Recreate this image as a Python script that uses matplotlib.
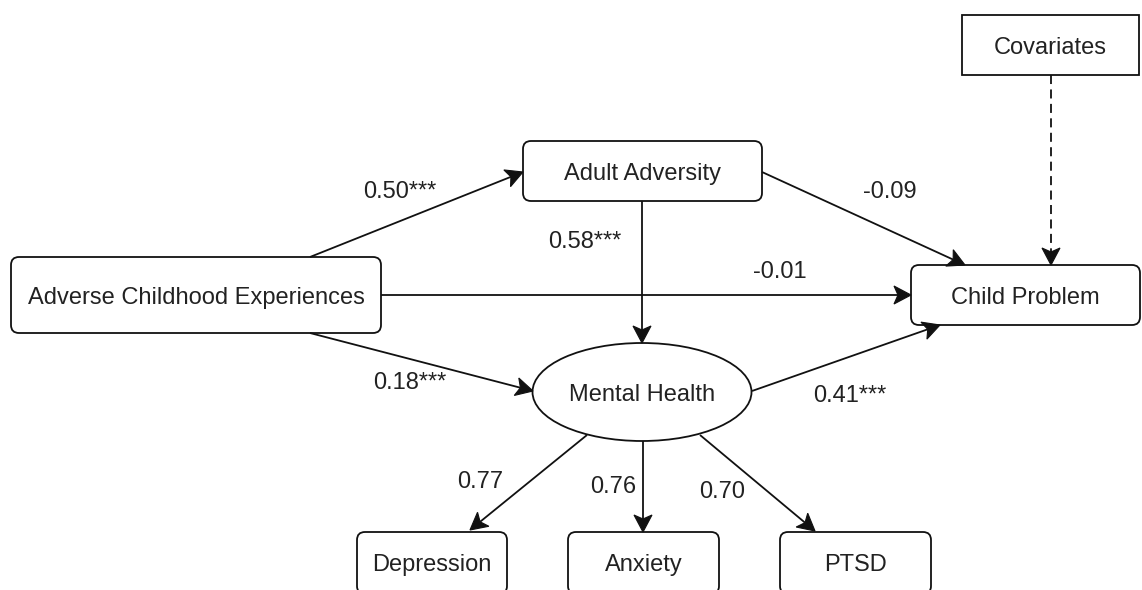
import numpy as np
import matplotlib.pyplot as plt
from matplotlib.patches import FancyBboxPatch, Rectangle, Ellipse, Polygon

plt.rcParams['font.family'] = ['Liberation Sans', 'DejaVu Sans']

# node labels
nodes = ["Adverse Childhood Experiences", "Adult Adversity", "Mental Health",
         "Child Problem", "Covariates", "Depression", "Anxiety", "PTSD"]
# path coefficients (label text)
paths_from = ["Adverse Childhood Experiences", "Adult Adversity", "Adult Adversity",
              "Adverse Childhood Experiences", "Adverse Childhood Experiences", "Mental Health",
              "Mental Health", "Mental Health", "Mental Health"]
paths_to = ["Adult Adversity", "Child Problem", "Mental Health",
            "Child Problem", "Mental Health", "Child Problem",
            "Depression", "Anxiety", "PTSD"]
coefs = ["0.50***", "-0.09", "0.58***", "-0.01", "0.18***", "0.41***", "0.77", "0.76", "0.70"]

# layout in pixel space (x0, y0, x1, y1)
box_pos = {
    "Adverse Childhood Experiences": (11, 257, 381, 333),
    "Adult Adversity": (523, 141, 762, 201),
    "Child Problem": (911, 265, 1140, 325),
    "Covariates": (962, 15, 1139, 75),
    "Depression": (357, 532, 507, 594),
    "Anxiety": (568, 532, 719, 594),
    "PTSD": (780, 532, 931, 594),
}
ellipse_pos = {"Mental Health": (642, 392, 219, 98)}

# arrow endpoints and label positions
arrow_pts = [((310, 257), (523, 172)), ((762, 172), (965, 265)), ((642, 201), (642, 343)),
             ((381, 295), (911, 295)), ((310, 333), (533, 391)), ((752, 391), (940, 325)),
             ((587, 435), (470, 530)), ((643, 441), (643, 532)), ((700, 435), (815, 531))]
label_pts = [(400, 192), (890, 192), (585, 242), (780, 272), (410, 383), (850, 396),
             (480, 482), (613, 487), (722, 492)]

fig = plt.figure(figsize=(11.42, 5.90), dpi=100)
ax = fig.add_axes([0, 0, 1, 1])
ax.set_xlim(0, 1142)
ax.set_ylim(590, 0)
ax.axis('off')

txt_color = '#222222'
line_color = '#111111'
fs = 17


def draw_arrow(a, b, ls='-'):
    a = np.array(a, float)
    b = np.array(b, float)
    d = (b - a) / np.linalg.norm(b - a)
    n = np.array([-d[1], d[0]])
    L, W, notch = 17, 9, 4
    base = b - d * L
    ax.plot([a[0], (b - d * (L - notch))[0]], [a[1], (b - d * (L - notch))[1]],
            color=line_color, lw=1.3, ls=ls, solid_capstyle='butt')
    head = [b, base + n * W, b - d * (L - notch), base - n * W]
    ax.add_patch(Polygon(head, closed=True, fc=line_color, ec=line_color, lw=0.8))


for name in nodes:
    if name in box_pos:
        x0, y0, x1, y1 = box_pos[name]
        if name == "Covariates":
            p = Rectangle((x0, y0), x1 - x0, y1 - y0, fc='white', ec=line_color, lw=1.3)
        else:
            p = FancyBboxPatch((x0, y0), x1 - x0, y1 - y0, boxstyle="round,pad=0,rounding_size=8",
                               fc='white', ec=line_color, lw=1.3)
        ax.add_patch(p)
        cy = (y0 + y1) / 2 if y1 < 590 else (y0 + 590) / 2 + 1
        ax.text((x0 + x1) / 2, cy + 3, name, ha='center', va='center', fontsize=fs, color=txt_color)
    else:
        cx, cy, w, h = ellipse_pos[name]
        ax.add_patch(Ellipse((cx, cy), w, h, fc='white', ec=line_color, lw=1.3))
        ax.text(cx, cy + 3, name, ha='center', va='center', fontsize=fs, color=txt_color)

for (a, b), lab, lp in zip(arrow_pts, coefs, label_pts):
    draw_arrow(a, b)
    ax.text(lp[0], lp[1], lab, ha='center', va='center', fontsize=fs, color=txt_color)

# covariates path (dashed)
draw_arrow((1051, 75), (1051, 265), ls=(0, (5, 3)))

fig.savefig('out.png', dpi=100)
